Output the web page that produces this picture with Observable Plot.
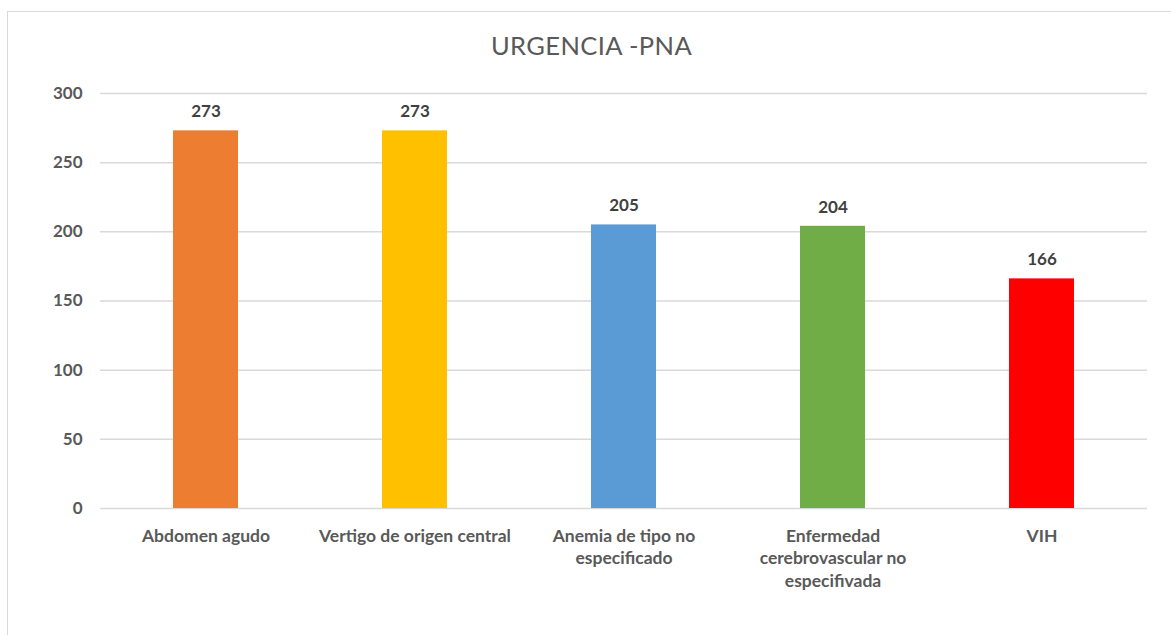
<!DOCTYPE html>
<html>
<head>
<meta charset="utf-8">
<script src="https://cdn.jsdelivr.net/npm/d3@7"></script>
<script src="https://cdn.jsdelivr.net/npm/@observablehq/plot@0.6"></script>
<style>
  html, body { margin: 0; padding: 0; background: #fff; }
  #wrap { position: relative; width: 1171px; height: 635px; overflow: hidden; font-family: Lato, "Liberation Sans", sans-serif; }
  #frame { position: absolute; left: 7px; top: 11px; width: 1180px; height: 640px; border: 1.5px solid #d9d9d9; box-sizing: border-box; }
  #title { position: absolute; left: 6px; width: 1171px; top: 30px; text-align: center; font-size: 25.5px; color: #595959; letter-spacing: 0.4px; }
  #chart { position: absolute; left: 0; top: 70px; }
</style>
</head>
<body>
<div id="wrap">
  <div id="frame"></div>
  <div id="title">URGENCIA -PNA</div>
  <div id="chart"></div>
</div>
<script>
const categories = ["Abdomen agudo", "Vertigo de origen central", "Anemia de tipo no especificado", "Enfermedad cerebrovascular no especifivada", "VIH"];
const tickLabels = ["Abdomen agudo", "Vertigo de origen central", "Anemia de tipo no\nespecificado", "Enfermedad\ncerebrovascular no\nespecifivada", "VIH"];
const values = [273, 273, 205, 204, 166];
const colors = ["#ED7D31", "#FFC000", "#5B9BD5", "#70AD47", "#FF0000"];
const yTicks = [0, 50, 100, 150, 200, 250, 300];

const data = categories.map((c, i) => ({cat: c, value: values[i], color: colors[i]}));
const labelOf = new Map(categories.map((c, i) => [c, tickLabels[i]]));

const chart = Plot.plot({
  width: 1171,
  height: 565,
  marginTop: 23,
  marginBottom: 127,
  marginLeft: 100,
  marginRight: 24,
  style: {fontFamily: "Lato, 'Liberation Sans', sans-serif", background: "transparent"},
  x: {domain: categories, paddingInner: 0.69, paddingOuter: 0.345, label: null},
  y: {domain: [0, 300], ticks: yTicks, label: null},
  marks: [
    Plot.gridY(yTicks, {stroke: "#d9d9d9", strokeOpacity: 1, strokeWidth: 1.5}),
    Plot.barY(data, {x: "cat", y: "value", fill: "color"}),
    Plot.text(data, {x: "cat", y: "value", text: d => String(d.value), dy: -19, fontSize: 17, fontWeight: "bold", fill: "#404040"}),
    Plot.axisY({ticks: yTicks, tickSize: 0, tickPadding: 18, fontSize: 17, fontWeight: "bold", color: "#595959", label: null}),
    Plot.axisX({tickSize: 0, tickPadding: 17, fontSize: 17.5, fontWeight: "bold", color: "#595959", lineHeight: 1.3, tickFormat: d => labelOf.get(d), label: null})
  ]
});
document.getElementById("chart").appendChild(chart);
</script>
</body>
</html>
